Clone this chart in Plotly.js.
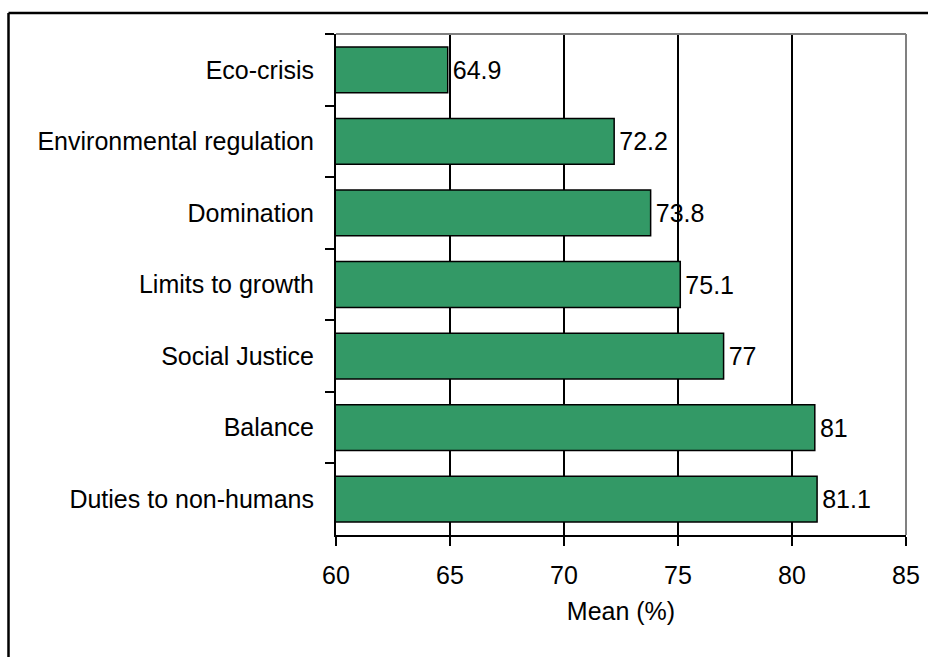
<!DOCTYPE html>
<html>
<head>
<meta charset="utf-8">
<script src="https://cdn.plot.ly/plotly-3.0.1.min.js"></script>
<style>
  html, body { margin: 0; padding: 0; background: #ffffff; }
  #chart { width: 928px; height: 657px; }
</style>
</head>
<body>
<div id="chart"></div>
<script>
// Mean agreement (%) by scale, listed top to bottom
const categories = [
  "Eco-crisis",
  "Environmental regulation",
  "Domination",
  "Limits to growth",
  "Social Justice",
  "Balance",
  "Duties to non-humans"
];
const meanValues = [64.9, 72.2, 73.8, 75.1, 77, 81, 81.1];
const valueLabels = ["64.9", "72.2", "73.8", "75.1", "77", "81", "81.1"];
const xTicks = [60, 65, 70, 75, 80, 85];

const FONT = "'Liberation Sans', Arial, sans-serif";
const FS = 25;
const ML = 336, MR = 22, MT = 34, MB = 122, W = 928, H = 657;
const plotW = W - ML - MR, plotH = H - MT - MB;

// paper coordinates for the outer frame (left and top edges)
const frameX = (8.5 - ML) / plotW;
const frameY = 1 + (MT - 13) / plotH;

const trace = {
  type: "bar",
  orientation: "h",
  y: categories,
  x: meanValues,
  text: valueLabels,
  texttemplate: "\u200A%{text}",
  textposition: "outside",
  textfont: { family: FONT, size: FS, color: "#000000" },
  marker: { color: "#339966", line: { color: "#000000", width: 1.5 } },
  hoverinfo: "none"
};

const layout = {
  width: W,
  height: H,
  margin: { l: ML, r: MR, t: MT, b: MB, pad: 0 },
  paper_bgcolor: "#ffffff",
  plot_bgcolor: "#ffffff",
  showlegend: false,
  bargap: 0.36,
  font: { family: FONT, size: FS, color: "#000000" },
  xaxis: {
    range: [60, 85],
    tickvals: xTicks,
    ticktext: xTicks.map(String),
    ticks: "outside",
    ticklen: 9,
    tickwidth: 2,
    tickcolor: "#000000",
    showline: true,
    linecolor: "#000000",
    linewidth: 2,
    showgrid: true,
    gridcolor: "#000000",
    gridwidth: 2,
    zeroline: false,
    ticklabelstandoff: 8,
    tickfont: { family: FONT, size: FS, color: "#000000" },
    title: { text: "Mean (%)", font: { family: FONT, size: FS, color: "#000000" }, standoff: 14 },
    fixedrange: true
  },
  yaxis: {
    type: "category",
    autorange: "reversed",
    ticks: "outside",
    tickson: "boundaries",
    ticklen: 9,
    tickwidth: 2,
    tickcolor: "#000000",
    showline: true,
    linecolor: "#000000",
    linewidth: 2,
    showgrid: false,
    zeroline: false,
    ticklabelstandoff: 15,
    tickfont: { family: FONT, size: FS, color: "#000000" },
    fixedrange: true
  },
  shapes: [
    // grey top and right edges of the plotting area
    { type: "line", xref: "paper", yref: "paper", x0: 0, x1: 1, y0: 1, y1: 1,
      line: { color: "#808080", width: 2 }, layer: "above" },
    { type: "line", xref: "paper", yref: "paper", x0: 1, x1: 1, y0: 0, y1: 1,
      line: { color: "#808080", width: 2 }, layer: "above" },
    // outer chart frame
    { type: "line", xref: "paper", yref: "paper", x0: frameX, x1: frameX, y0: -1, y1: frameY,
      line: { color: "#000000", width: 2.5 }, layer: "above" },
    { type: "line", xref: "paper", yref: "paper", x0: frameX, x1: 2, y0: frameY, y1: frameY,
      line: { color: "#000000", width: 2.5 }, layer: "above" }
  ]
};

Plotly.newPlot("chart", [trace], layout, { displayModeBar: false, staticPlot: true });
</script>
</body>
</html>
